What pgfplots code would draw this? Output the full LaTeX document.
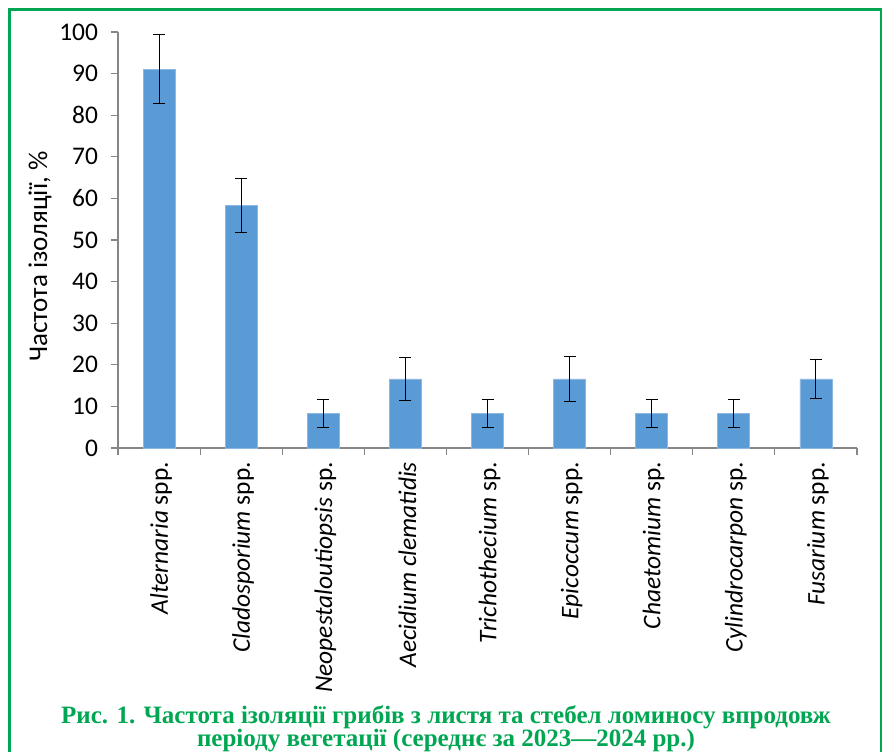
\documentclass[border=0pt]{standalone}
\usepackage{fontspec}
\setmainfont{Carlito}
\newfontfamily\capfont{Liberation Serif}
\usepackage{pgfplots}
\pgfplotsset{compat=1.18}
\definecolor{barblue}{RGB}{91,155,213}
\definecolor{baredge}{RGB}{140,185,228}
\definecolor{frgreen}{RGB}{0,166,81}
\definecolor{axgray}{RGB}{134,134,134}
\pgfplotstableread{
x y e
1 91.1 8.2
2 58.3 6.5
3 8.3 3.4
4 16.6 5.2
5 8.3 3.4
6 16.6 5.5
7 8.3 3.3
8 8.3 3.3
9 16.6 4.7
}\datatab
\begin{document}
\begin{tikzpicture}
\path[use as bounding box] (0,0) rectangle (441.5pt,375.5pt);
\clip (0,0) rectangle (441.5pt,375.5pt);
\draw[frgreen, line width=1.3pt] (4.6pt,-10pt) -- (4.6pt,370.6pt) -- (440.4pt,370.6pt) -- (440.4pt,-10pt);
\begin{axis}[
  at={(59pt,151.5pt)}, anchor=south west,
  scale only axis, width=369.5pt, height=208pt,
  xmin=0.5, xmax=9.5, ymin=0, ymax=100,
  axis x line*=bottom, axis y line*=left,
  axis line style={axgray, line width=0.6pt, -},
  tick align=outside,
  major tick length=3.5pt, minor tick length=3.5pt,
  tick style={axgray, line width=0.6pt},
  ytick={0,10,...,100},
  xtick={1,...,9},
  minor xtick={0.5,1.5,...,9.5},
  major x tick style={draw=none},
  xticklabels={{\textit{Alternaria} spp.},{\textit{Cladosporium} spp.},{\textit{Neopestaloutiopsis} sp.},{\textit{Aecidium clematidis}},{\textit{Trichothecium} sp.},{\textit{Epicoccum} spp.},{\textit{Chaetomium} sp.},{\textit{Cylindrocarpon} sp.},{\textit{Fusarium} spp.}},
  x tick label style={rotate=90, anchor=east, font=\fontsize{12.7}{15}\selectfont, yshift=-1pt},
  y tick label style={font=\fontsize{12.7}{15}\selectfont, xshift=-3pt},
  /pgf/number format/assume math mode=true,
  ylabel={Частота ізоляції, \%},
  every axis y label/.style={at={(axis description cs:-0.1055,0.46)}, rotate=90, anchor=center, font=\fontsize{13.5}{15}\selectfont},
  ybar, bar width=16pt,
]
\addplot[fill=barblue, draw=baredge, line width=0.4pt,
  error bars/.cd, y dir=both, y explicit,
  error bar style={black, line width=0.55pt},
  error mark options={rotate=90, mark size=3pt, black, line width=0.55pt}]
  table[x=x, y=y, y error=e]{\datatab};
\end{axis}
\node[anchor=base, text=frgreen, font=\capfont\bfseries\fontsize{12.5}{14}\selectfont] at (223pt,14pt) {Рис. 1. Частота ізоляції грибів з листя та стебел ломиносу впродовж};
\node[anchor=base, text=frgreen, font=\capfont\bfseries\fontsize{12.5}{14}\selectfont] at (223pt,2.5pt) {періоду вегетації (середнє за 2023—2024 рр.)};
\end{tikzpicture}
\end{document}
